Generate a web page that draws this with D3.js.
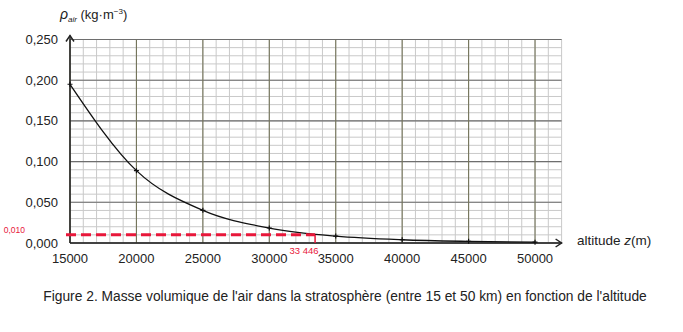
<!DOCTYPE html>
<html><head><meta charset="utf-8">
<script src="https://cdn.jsdelivr.net/npm/d3@7"></script>
<style>body{margin:0;background:#fff}svg{display:block}text{font-family:"Liberation Sans",Arial,sans-serif}</style>
</head><body><svg id="c" width="683" height="332"></svg>
<script>
const altitudes = [15000, 20000, 25000, 30000, 35000, 40000, 45000, 50000];
const densities = [0.195, 0.0889, 0.0401, 0.0184, 0.0085, 0.0040, 0.0020, 0.0010];
const xTicks = [15000, 20000, 25000, 30000, 35000, 40000, 45000, 50000];
const yTicks = [0, 0.05, 0.10, 0.15, 0.20, 0.25];
const yTickLabels = ["0,000", "0,050", "0,100", "0,150", "0,200", "0,250"];
const readRho = 0.010;
const readZ = 33446;
const readRhoLabel = "0,010";
const readZLabel = "33 446";
const caption = "Figure 2. Masse volumique de l'air dans la stratosphère (entre 15 et 50 km) en fonction de l'altitude";

const svg = d3.select("#c");
const x = d3.scaleLinear().domain([15000, 52000]).range([70, 561.6]);
const y = d3.scaleLinear().domain([0, 0.25]).range([243, 39.5]);

// minor grid
const g = svg.append("g");
const minorX = d3.range(15000, 52001, 1000);
const minorY = d3.range(0, 0.2501, 0.01);
g.selectAll(".mx").data(minorX).enter().append("line")
  .attr("x1", d => x(d)).attr("x2", d => x(d)).attr("y1", y(0)).attr("y2", y(0.25))
  .attr("stroke", "#c9c9c9").attr("stroke-width", 1);
g.selectAll(".my").data(minorY).enter().append("line")
  .attr("x1", x(15000)).attr("x2", x(52000)).attr("y1", d => y(d)).attr("y2", d => y(d))
  .attr("stroke", "#c9c9c9").attr("stroke-width", 1);
// major grid
g.selectAll(".My").data(yTicks).enter().append("line")
  .attr("x1", x(15000)).attr("x2", x(52000)).attr("y1", d => y(d)).attr("y2", d => y(d))
  .attr("stroke", "#6e6e6e").attr("stroke-width", 1.1);
g.selectAll(".Mx").data(xTicks).enter().append("line")
  .attr("x1", d => x(d)).attr("x2", d => x(d)).attr("y1", y(0)).attr("y2", y(0.25))
  .attr("stroke", "#74745a").attr("stroke-width", 1.1);

// axes
const ax = svg.append("g").attr("stroke", "#222").attr("stroke-width", 1.5).attr("fill", "none");
ax.append("line").attr("x1", x(15000)).attr("x2", x(15000)).attr("y1", y(0)).attr("y2", y(0.25) - 4);
ax.append("path").attr("d", `M${x(15000)-4},${y(0.25)+2} L${x(15000)},${y(0.25)-4} L${x(15000)+4},${y(0.25)+2}`);
ax.append("line").attr("x1", x(15000)).attr("x2", x(52000)).attr("y1", y(0)).attr("y2", y(0));
ax.append("path").attr("d", `M${x(52000)-6},${y(0)-4} L${x(52000)},${y(0)} L${x(52000)-6},${y(0)+4}`);

// tick labels
svg.selectAll(".yl").data(yTicks).enter().append("text")
  .attr("x", 58).attr("y", d => y(d) + 4.5).attr("text-anchor", "end")
  .attr("font-size", 13).attr("fill", "#222").text((d, i) => yTickLabels[i]);
svg.selectAll(".xl").data(xTicks).enter().append("text")
  .attr("x", d => x(d)).attr("y", 263).attr("text-anchor", "middle")
  .attr("font-size", 13).attr("fill", "#222").text(d => d);

// axis titles
const yt = svg.append("text").attr("x", 60).attr("y", 19).attr("font-size", 13).attr("fill", "#222");
yt.append("tspan").attr("font-style", "italic").attr("font-size", 14).text("ρ");
yt.append("tspan").attr("font-style", "italic").attr("font-size", 8).attr("dy", 3).text("air");
yt.append("tspan").attr("dy", -3).text(" (kg·m");
yt.append("tspan").attr("font-size", 8).attr("dy", -5).text("−3");
yt.append("tspan").attr("dy", 5).text(")");
const xt = svg.append("text").attr("x", 577).attr("y", 245).attr("font-size", 13.5).attr("fill", "#222");
xt.append("tspan").text("altitude ");
xt.append("tspan").attr("font-style", "italic").text("z");
xt.append("tspan").text("(m)");

// curve
const pts = altitudes.map((a, i) => [a, densities[i]]);
svg.append("path").datum(pts)
  .attr("d", d3.line().x(d => x(d[0])).y(d => y(d[1])).curve(d3.curveMonotoneX))
  .attr("fill", "none").attr("stroke", "#111").attr("stroke-width", 1.3);
svg.selectAll(".pt").data(pts).enter().append("path")
  .attr("d", d => `M${x(d[0])-2.5},${y(d[1])} h5 M${x(d[0])},${y(d[1])-2.5} v5`)
  .attr("stroke", "#111").attr("stroke-width", 1.2);

// red reading
svg.append("line").attr("x1", x(15000) - 4).attr("x2", x(readZ)).attr("y1", y(readRho)).attr("y2", y(readRho))
  .attr("stroke", "#e8173a").attr("stroke-width", 3).attr("stroke-dasharray", "10,5");
svg.append("line").attr("x1", x(readZ)).attr("x2", x(readZ)).attr("y1", y(readRho)).attr("y2", y(0))
  .attr("stroke", "#e8173a").attr("stroke-width", 1.5);
svg.append("text").attr("x", 25).attr("y", 233).attr("text-anchor", "end")
  .attr("font-size", 8.5).attr("fill", "#e8173a").text(readRhoLabel);
svg.append("text").attr("x", 304).attr("y", 254).attr("text-anchor", "middle")
  .attr("font-size", 9.5).attr("fill", "#e8173a").text(readZLabel);

// caption
svg.append("text").attr("x", 345).attr("y", 301).attr("text-anchor", "middle")
  .attr("font-size", 13.8).attr("fill", "#222").text(caption);
</script></body></html>
